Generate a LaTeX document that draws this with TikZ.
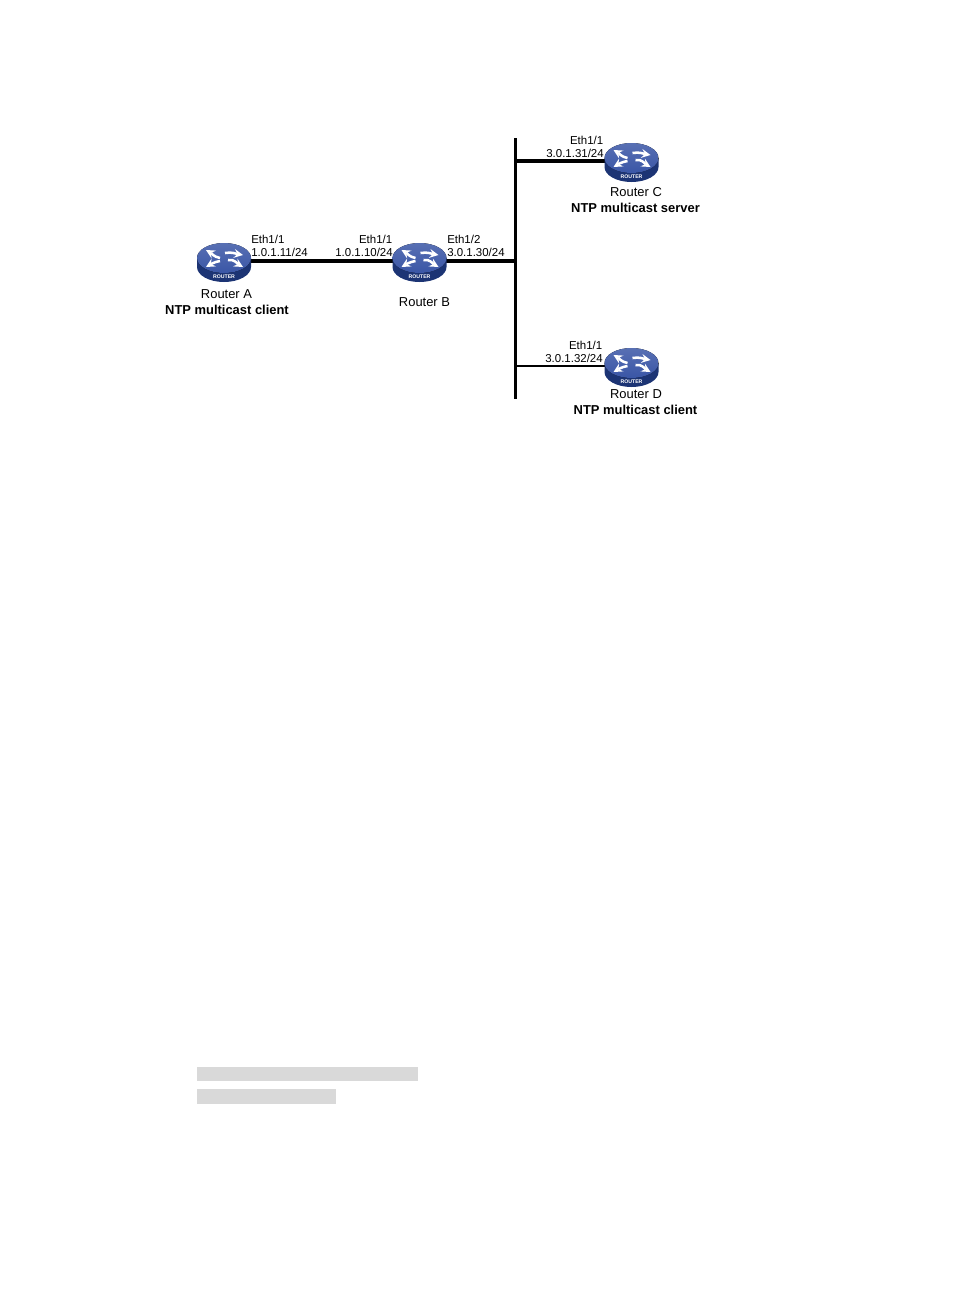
\documentclass[tikz,border=0pt]{standalone}
\usepackage{fontspec}
\setmainfont{Liberation Sans}
\usetikzlibrary{calc}
\usetikzlibrary{positioning}
\definecolor{routertop}{RGB}{58,86,166}
\definecolor{routerlow}{RGB}{28,52,116}
\definecolor{barfill}{RGB}{217,217,217}
\tikzset{
	routerbox/.style={inner sep=0pt,minimum width=40pt,minimum height=29pt},
	iflabel/.style={font=\fontsize{8.6pt}{10pt}\selectfont,inner sep=0pt,align=left},
	namelabel/.style={font=\fontsize{9.7pt}{10pt}\selectfont,inner sep=0pt},
	rolelabel/.style={font=\bfseries\fontsize{9.7pt}{10pt}\selectfont,inner sep=0pt},
	netline/.style={line width=2.2pt},
	whitearrow/.style={white,line width=1.9pt,-stealth},
	routerpic/.pic={
		% body, then the top disc
		\fill[routerlow] (-27,-3) -- (-27,6) arc[start angle=180,end angle=0,x radius=27,y radius=15] -- (27,-3) -- cycle;
		\fill[top color=routertop!85!white,bottom color=routertop] (0,-3) ellipse[x radius=27,y radius=15];
		% crossed arrows
		\draw[whitearrow] (-4,-3) to[out=170,in=-30] (-18,-11);
		\draw[whitearrow] (1,-8) to[out=10,in=170] (19,-6);
		\draw[whitearrow] (-4,0) to[out=190,in=30] (-18,6);
		\draw[whitearrow] (4,-1) to[out=10,in=150] (19,6);
		\node[white,inner sep=0pt,font=\bfseries\fontsize{3.9pt}{4pt}\selectfont] at (0,16) {ROUTER};
	}
}
\begin{document}
\begin{tikzpicture}[x=0.75pt,y=-0.75pt]
	\useasboundingbox (0,0) rectangle (954,1296);
	% routers
	\node[routerbox] (routerA) at (224,261) {};
	\node[routerbox] (routerB) at (419.5,261) {};
	\node[routerbox] (routerC) at (631.5,161) {};
	\node[routerbox] (routerD) at (631.5,366) {};
	% bus and its junctions
	\coordinate (busTop) at (515.5,138);
	\coordinate (busBottom) at (515.5,399);
	\coordinate (busB) at (515.5,261);
	\coordinate (busC) at (515.5,161);
	\coordinate (busD) at (515.5,366);
	\draw[netline] (busTop) -- (busBottom);
	\draw[netline,line width=2.6pt] (routerA) -- (routerB);
	\draw[netline,line width=2.6pt] (routerB) -- (busB);
	\draw[netline,line width=2.4pt] (busC) -- (routerC);
	\draw[netline,line width=1.8pt] (busD) -- (routerD);
	\pic at (routerA) {routerpic};
	\pic at (routerB) {routerpic};
	\pic at (routerC) {routerpic};
	\pic at (routerD) {routerpic};
	% interface labels
	\node[iflabel,anchor=west] (ethA) at (251,239) {Eth1/1};
	\node[iflabel,anchor=west] (ipA) at (251,252.5) {1.0.1.11/24};
	\node[iflabel,anchor=east] (ethB) at (392.5,239) {Eth1/1};
	\node[iflabel,anchor=east] (ipB) at (393,252.5) {1.0.1.10/24};
	\node[iflabel,anchor=west] (ethBb) at (447,239) {Eth1/2};
	\node[iflabel,anchor=west] (ipBb) at (447,252.5) {3.0.1.30/24};
	\node[iflabel,anchor=east] (ethC) at (603.5,140) {Eth1/1};
	\node[iflabel,anchor=east] (ipC) at (604,153.5) {3.0.1.31/24};
	\node[iflabel,anchor=east] (ethD) at (602.5,345) {Eth1/1};
	\node[iflabel,anchor=east] (ipD) at (603,358) {3.0.1.32/24};
	% names and roles
	\node[namelabel] (nameA) at (226.5,294) {Router A};
	\node[rolelabel] (roleA) at (227,310) {NTP multicast client};
	\node[namelabel] (nameB) at (424.5,302) {Router B};
	\node[namelabel] (nameC) at (636,192) {Router C};
	\node[rolelabel] (roleC) at (635.5,207.5) {NTP multicast server};
	\node[namelabel] (nameD) at (636,394) {Router D};
	\node[rolelabel] (roleD) at (635.5,409.5) {NTP multicast client};
	% grey bars
	\fill[barfill] (197,1067) rectangle (418,1081);
	\fill[barfill] (197,1089) rectangle (336,1104);
\end{tikzpicture}
\end{document}
